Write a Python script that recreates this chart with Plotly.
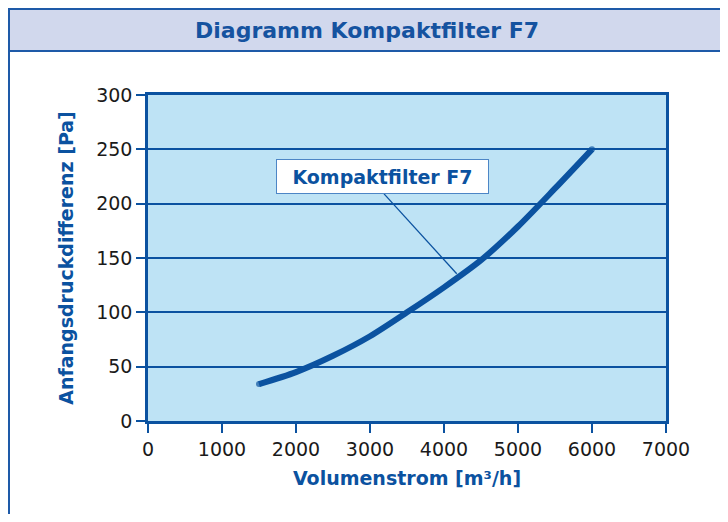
import plotly.graph_objects as go

# Data
volumenstrom = [1500, 2000, 2500, 3000, 3500, 4000, 4500, 5000, 5500, 6000]
druckdifferenz = [34, 45, 60, 78, 100, 123, 148, 179, 214, 250]

x_ticks = [0, 1000, 2000, 3000, 4000, 5000, 6000, 7000]
y_ticks = [0, 50, 100, 150, 200, 250, 300]

title_text = "Diagramm Kompaktfilter F7"
x_title = "Volumenstrom [m³/h]"
y_title = "Anfangsdruckdifferenz [Pa]"
series_name = "Kompaktfilter F7"

BLUE = "#0B52A0"
PLOT_BG = "#BEE3F5"
BAR_BG = "#D1D8ED"
FONT = "DejaVu Sans"

# page offset of the plotly div (default body margin)
OFF = 8
W, H = 728 - OFF, 522 - 2 * OFF
L, R, T = 148 - OFF, 62, 95 - OFF
B = H - (421 - OFF)
PW, PH = W - L - R, H - T - B


def px_x(px):
    return (px - OFF - L) / PW


def px_y(py):
    return (H - B - (py - OFF)) / PH


n = len(volumenstrom)
marker_sizes = [6] + [0] * (n - 2) + [6]

fig = go.Figure()
fig.add_trace(go.Scatter(
    x=volumenstrom, y=druckdifferenz, mode="lines+markers",
    line=dict(color=BLUE, width=6, shape="spline", smoothing=0.8),
    marker=dict(color=BLUE, size=marker_sizes, line=dict(width=0)),
    name=series_name, showlegend=False, hoverinfo="x+y",
))

shapes = [
    # outer frame
    dict(type="rect", xref="paper", yref="paper",
         x0=px_x(9), x1=px_x(727), y0=px_y(540), y1=px_y(9),
         line=dict(color="#1E5AA8", width=2), fillcolor="rgba(0,0,0,0)", layer="below"),
    # title bar
    dict(type="rect", xref="paper", yref="paper",
         x0=px_x(9), x1=px_x(727), y0=px_y(51), y1=px_y(9),
         line=dict(color="#1E5AA8", width=2), fillcolor=BAR_BG, layer="below"),
    # leader line of the label
    dict(type="line", xref="x", yref="y",
         x0=3190, y0=209, x1=4172, y1=135.5,
         line=dict(color=BLUE, width=1.3)),
]

annotations = [
    dict(text=title_text, xref="paper", yref="paper",
         x=px_x(367), y=px_y(30), xanchor="center", yanchor="middle",
         showarrow=False, font=dict(family=FONT, size=22, color="#1553A0", weight="bold")),
    dict(text=series_name, xref="x", yref="y",
         x=3169, y=225.4, xanchor="center", yanchor="middle",
         showarrow=False, bgcolor="white", bordercolor="#4D86C6", borderwidth=1,
         borderpad=1, width=209, height=31,
         font=dict(family=FONT, size=19, color=BLUE, weight="bold")),
]

fig.update_layout(
    width=W, height=H,
    margin=dict(l=L, r=R, t=T, b=B, pad=0),
    paper_bgcolor="white", plot_bgcolor=PLOT_BG,
    shapes=shapes, annotations=annotations,
    font=dict(family=FONT, size=19, color="#1a1a1a"),
)

fig.update_xaxes(
    range=[0, 7000], tickvals=x_ticks, ticktext=[str(v) for v in x_ticks],
    showgrid=False, zeroline=False,
    showline=True, linecolor=BLUE, linewidth=2.5, mirror=True,
    ticks="outside", ticklen=9, tickwidth=2, tickcolor=BLUE,
    tickfont=dict(family=FONT, size=19, color="#1a1a1a"),
    title=dict(text=x_title, standoff=14,
               font=dict(family=FONT, size=19, color=BLUE, weight="bold")),
    fixedrange=True,
)
fig.update_yaxes(
    range=[0, 300], tickvals=y_ticks, ticktext=[str(v) for v in y_ticks],
    showgrid=True, gridcolor=BLUE, gridwidth=2, zeroline=False,
    showline=True, linecolor=BLUE, linewidth=2.5, mirror=True,
    ticks="outside", ticklen=9, tickwidth=2, tickcolor=BLUE,
    tickfont=dict(family=FONT, size=19, color="#1a1a1a"),
    title=dict(text=y_title, standoff=18,
               font=dict(family=FONT, size=19, color=BLUE, weight="bold")),
    fixedrange=True,
)

fig.write_html("out.html")
